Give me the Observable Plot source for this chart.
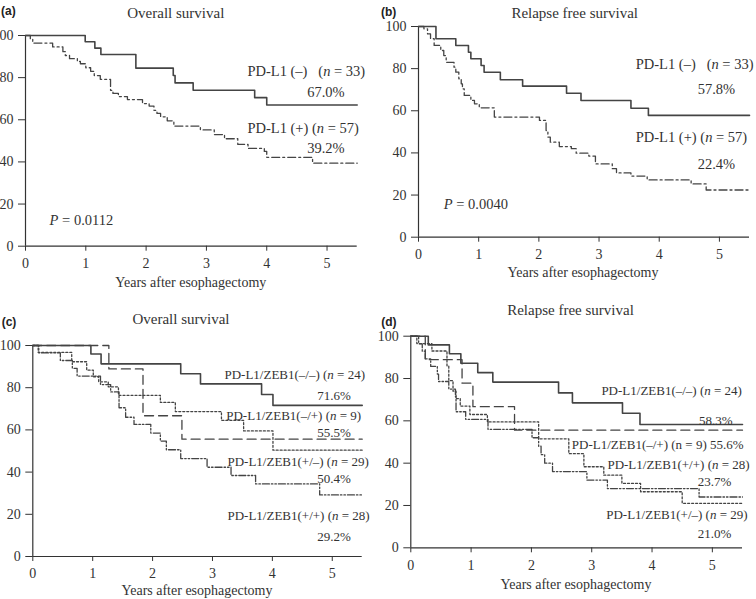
<!DOCTYPE html>
<html><head><meta charset="utf-8">
<script src="https://cdn.jsdelivr.net/npm/d3@7"></script>
<script src="https://cdn.jsdelivr.net/npm/@observablehq/plot@0.6"></script>
<style>
html,body{margin:0;padding:0;background:#fff;}
#wrap{position:relative;width:756px;height:599px;overflow:hidden;background:#fff;}
.panel{position:absolute;}
svg text{white-space:pre;}
</style></head><body><div id="wrap"></div>
<script>
// ---------- data ----------
const titles = ["Overall survival", "Relapse free survival", "Overall survival", "Relapse free survival"];
const panelLetters = ["(a)", "(b)", "(c)", "(d)"];
const xLabel = "Years after esophagectomy";
const yearTicks = [0, 1, 2, 3, 4, 5];
const percentTicks = [0, 20, 40, 60, 80, 100];

// Panel (a): overall survival by PD-L1
const aNeg = [[0,100],[0.99,97],[1.15,94],[1.25,91],[1.83,84.5],[2.45,81],[2.48,77.5],[2.78,74],[3.8,70.5],[4.0,67],[5.5,67]];
const aPos = [[0,100],[0.08,98.2],[0.12,96.4],[0.45,94.6],[0.62,92.3],[0.66,90.5],[0.73,89],[0.86,87.7],[0.91,86.6],[1.0,84.7],[1.08,83],[1.14,81],[1.24,79.2],[1.41,74],[1.45,72.5],[1.54,71],[1.69,69.6],[1.94,67.7],[2.05,66.5],[2.13,64.5],[2.18,63],[2.24,61.4],[2.35,59.5],[2.46,57],[2.9,55.2],[3.13,53],[3.3,51],[3.52,48.3],[3.69,46.4],[3.96,45],[4.0,42.2],[4.76,39.4],[5.5,39.4]];
const aLabels = ["PD-L1 (–)   (n = 33)", "67.0%", "PD-L1 (+) (n = 57)", "39.2%", "P = 0.0112"];

// Panel (b): relapse free survival by PD-L1
const bNeg = [[0,100],[0.29,94.2],[0.62,91],[0.83,87.8],[0.87,84.7],[1.04,81.5],[1.09,78.3],[1.36,74.7],[1.73,71.7],[2.46,68.3],[2.7,64.9],[3.53,61.2],[3.82,57.8],[5.5,57.8]];
const bPos = [[0,100],[0.09,98.9],[0.15,96.5],[0.2,94.2],[0.26,91],[0.37,88.6],[0.42,86.2],[0.46,83],[0.59,80.7],[0.62,78.3],[0.67,75.2],[0.71,72.8],[0.73,70.4],[0.76,67.3],[0.87,64.9],[0.93,63.3],[1.01,61.4],[1.26,57],[2.01,55.4],[2.12,50.6],[2.15,47.5],[2.19,45.1],[2.34,43],[2.54,42],[2.62,39.9],[2.83,38.5],[2.94,34.8],[3.22,32.5],[3.29,30.5],[3.53,29],[3.8,27.2],[4.53,25.3],[4.78,22.4],[5.5,22.4]];
const bLabels = ["PD-L1 (–)   (n = 33)", "57.8%", "PD-L1 (+) (n = 57)", "22.4%", "P = 0.0040"];

// Panel (c): overall survival by PD-L1/ZEB1
const cNN = [[0,100],[0.97,96],[1.14,91.3],[2.47,86.6],[2.8,81.8],[3.82,76.8],[4.01,71.6],[5.5,71.6]];
const cNP = [[0,100],[1.27,88.9],[1.84,66.7],[2.49,55.6],[5.5,55.6]];
const cPN = [[0,100],[0.09,96.7],[0.65,92.3],[0.9,88.3],[1.01,85.2],[1.1,82.8],[1.26,80.4],[1.43,76.4],[2.13,73],[2.38,68.7],[3.15,64.5],[3.52,59.5],[4.01,50.4],[5.5,50.4]];
const cPP = [[0,100],[0.1,96.5],[0.46,92.9],[0.66,89.2],[0.74,85.5],[1.13,81.5],[1.3,78],[1.44,70.5],[1.55,66],[1.69,62.6],[1.97,58.5],[2.13,54.7],[2.23,50.6],[2.47,46.4],[2.91,42.3],[3.31,38.4],[3.72,34.4],[4.79,29.2],[5.5,29.2]];
const cLabels = ["PD-L1/ZEB1(–/–) (n = 24)", "71.6%", "PD-L1/ZEB1(–/+) (n = 9)", "55.5%", "PD-L1/ZEB1(+/–) (n = 29)", "50.4%", "PD-L1/ZEB1(+/+) (n = 28)", "29.2%"];

// Panel (d): relapse free survival by PD-L1/ZEB1
const dNN = [[0,100],[0.29,95.9],[0.64,91.7],[0.83,87.2],[1.11,82.8],[1.36,78.3],[2.45,73.2],[2.68,68.5],[3.51,63.6],[3.8,58.3],[5.5,58.3]];
const dNP = [[0,100],[0.24,88.9],[0.85,77.8],[1.03,66.7],[1.72,55.6],[5.5,55.6]];
const dPN = [[0,100],[0.1,96.5],[0.35,93],[0.6,86],[0.63,79],[0.7,74],[0.75,70.5],[0.82,67],[0.98,63],[1.27,59.5],[2.12,51.5],[2.62,44.5],[2.87,38.3],[3.2,34.3],[3.5,30.4],[3.81,26.5],[4.5,21],[5.5,21]];
const dPP = [[0,100],[0.13,96.4],[0.19,92.9],[0.24,89.3],[0.33,85.7],[0.44,82.1],[0.46,78.6],[0.63,75],[0.74,71.4],[0.75,64.3],[0.91,60.7],[1.28,56],[2.01,52],[2.12,48],[2.16,44],[2.22,40],[2.35,36],[2.92,32],[3.26,28],[4.78,24],[5.5,24]];
const dLabels = ["PD-L1/ZEB1(–/–) (n = 24)", "58.3%", "PD-L1/ZEB1(–/+) (n = 9) 55.6%", "PD-L1/ZEB1(+/+) (n = 28)", "23.7%", "PD-L1/ZEB1(+/–) (n = 29)", "21.0%"];

// ---------- styles / layout ----------
const SERIF = "'Liberation Serif', 'Times New Roman', serif";
const INK = "#333";
const LINE = "#444";
const DASHDOT = "8,3,2,3";
const DASHED = "9,5";
const DOTTED = "2,2";
const DASHDOTDOT = "7,2,1.5,2,1.5,2";
const toRows = arr => arr.map(([t, v]) => ({t, v}));

const panels = [
  { left: 0, top: 0, width: 378, height: 300, m: [35, 21.3, 54.3, 25], fs: 14.5,
    series: [{d: aPos, dash: DASHDOT, w: 1.3}, {d: aNeg, dash: null, w: 1.6}],
    notes: [[aLabels[0], 3.68, 83], [aLabels[1], 4.67, 73.1], [aLabels[2], 3.68, 55.9], [aLabels[3], 4.67, 46.5], [aLabels[4], 0.4, 12.5]],
    title: [175.8, 17.5], letter: [1, 15, "start"], xl: [190.8, 287.3] },
  { left: 378, top: 0, width: 378, height: 300, m: [26, 7, 63.3, 40], fs: 14.5,
    series: [{d: bPos, dash: DASHDOT, w: 1.3}, {d: bNeg, dash: null, w: 1.6}],
    notes: [[bLabels[0], 3.61, 81.8], [bLabels[1], 4.64, 70.4], [bLabels[2], 3.61, 47.2], [bLabels[3], 4.64, 34.8], [bLabels[4], 0.42, 15.5]],
    title: [196.7, 18.3], letter: [3, 15.5, "start"], xl: [205, 277] },
  { left: 0, top: 300, width: 378, height: 299, m: [45, 16.3, 43, 32.3], fs: 13,
    series: [{d: cPP, dash: DASHDOTDOT, w: 1.3}, {d: cPN, dash: DOTTED, w: 1.3}, {d: cNP, dash: DASHED, w: 1.3}, {d: cNN, dash: null, w: 1.6}],
    notes: [[cLabels[0], 3.2, 86.3], [cLabels[1], 4.75, 76.3], [cLabels[2], 3.23, 66.5], [cLabels[3], 4.75, 58.6], [cLabels[4], 3.25, 45], [cLabels[5], 4.75, 36.8], [cLabels[6], 3.25, 19.4], [cLabels[7], 4.75, 9.5]],
    title: [181, 24.3], letter: [1.7, 26, "start"], xl: [197, 294.5] },
  { left: 378, top: 300, width: 378, height: 299, m: [35.7, 14, 51.7, 32.3], fs: 13,
    series: [{d: dPP, dash: DASHDOTDOT, w: 1.3}, {d: dPN, dash: DOTTED, w: 1.3}, {d: dNP, dash: DASHED, w: 1.3}, {d: dNN, dash: null, w: 1.6}],
    notes: [[dLabels[0], 3.16, 74.3], [dLabels[1], 4.78, 60.2], [dLabels[2], 2.67, 48.8], [dLabels[3], 3.26, 39.2], [dLabels[4], 4.76, 31], [dLabels[5], 3.24, 15.6], [dLabels[6], 4.76, 6.6]],
    title: [192.5, 15], letter: [3.3, 26, "start"], xl: [198, 289.3] }
];

const wrap = document.getElementById("wrap");

panels.forEach((p, i) => {
  const marks = [
    Plot.ruleX([0], {stroke: INK, strokeWidth: 1.2}),
    Plot.ruleY([0], {stroke: INK, strokeWidth: 1.2}),
    ...p.series.map(s => Plot.line(toRows(s.d), {
      x: "t", y: "v", curve: "step-after", stroke: LINE, strokeWidth: s.w,
      strokeDasharray: s.dash || undefined
    })),
    Plot.text(p.notes.map(([text, x, y]) => ({text, x, y})), {
      x: "x", y: "y", text: "text", textAnchor: "start", fontSize: p.fs, fill: INK, fontFamily: SERIF
    })
  ];
  const svg = Plot.plot({
    width: p.width, height: p.height,
    marginTop: p.m[0], marginRight: p.m[1], marginBottom: p.m[2], marginLeft: p.m[3],
    style: {fontFamily: SERIF, fontSize: "14px", color: INK, background: "transparent", overflow: "hidden"},
    x: {domain: [0, 5.5], ticks: yearTicks, tickSize: 5, tickPadding: 7, tickFormat: d3.format("d"), label: null},
    y: {domain: [0, 100], ticks: percentTicks, tickSize: 7, tickPadding: 5, tickFormat: d3.format("d"), label: null},
    marks
  });
  // italic n and P
  svg.querySelectorAll("text").forEach(el => {
    const s = el.textContent;
    if (el.children.length) return;
    if (s.includes("(n = 9) 55.6%")) return;
    let m = s.match(/^(.*\()n( = .*)$/);
    let parts = null;
    if (m) parts = [m[1], "n", m[2]];
    else if ((m = s.match(/^P( = .*)$/))) parts = ["", "P", m[1]];
    if (parts) {
      el.textContent = "";
      const ns = "http://www.w3.org/2000/svg";
      parts.forEach((txt, k) => {
        const ts = document.createElementNS(ns, "tspan");
        ts.textContent = txt;
        if (k === 1) ts.setAttribute("font-style", "italic");
        el.appendChild(ts);
      });
    }
  });
  const g = d3.select(svg);
  g.append("text").attr("x", p.title[0]).attr("y", p.title[1]).attr("text-anchor", "middle")
    .attr("font-family", SERIF).attr("font-size", 15).attr("fill", INK).text(titles[i]);
  g.append("text").attr("x", p.letter[0]).attr("y", p.letter[1]).attr("text-anchor", p.letter[2])
    .attr("font-family", "'Liberation Sans', Arial, sans-serif").attr("font-weight", "bold")
    .attr("font-size", 12).attr("fill", "#222").text(panelLetters[i]);
  g.append("text").attr("x", p.xl[0]).attr("y", p.xl[1]).attr("text-anchor", "middle")
    .attr("font-family", SERIF).attr("font-size", 14).attr("fill", INK).text(xLabel);
  const div = document.createElement("div");
  div.className = "panel";
  div.style.left = p.left + "px";
  div.style.top = p.top + "px";
  div.appendChild(svg);
  wrap.appendChild(div);
});
</script>
</body></html>
